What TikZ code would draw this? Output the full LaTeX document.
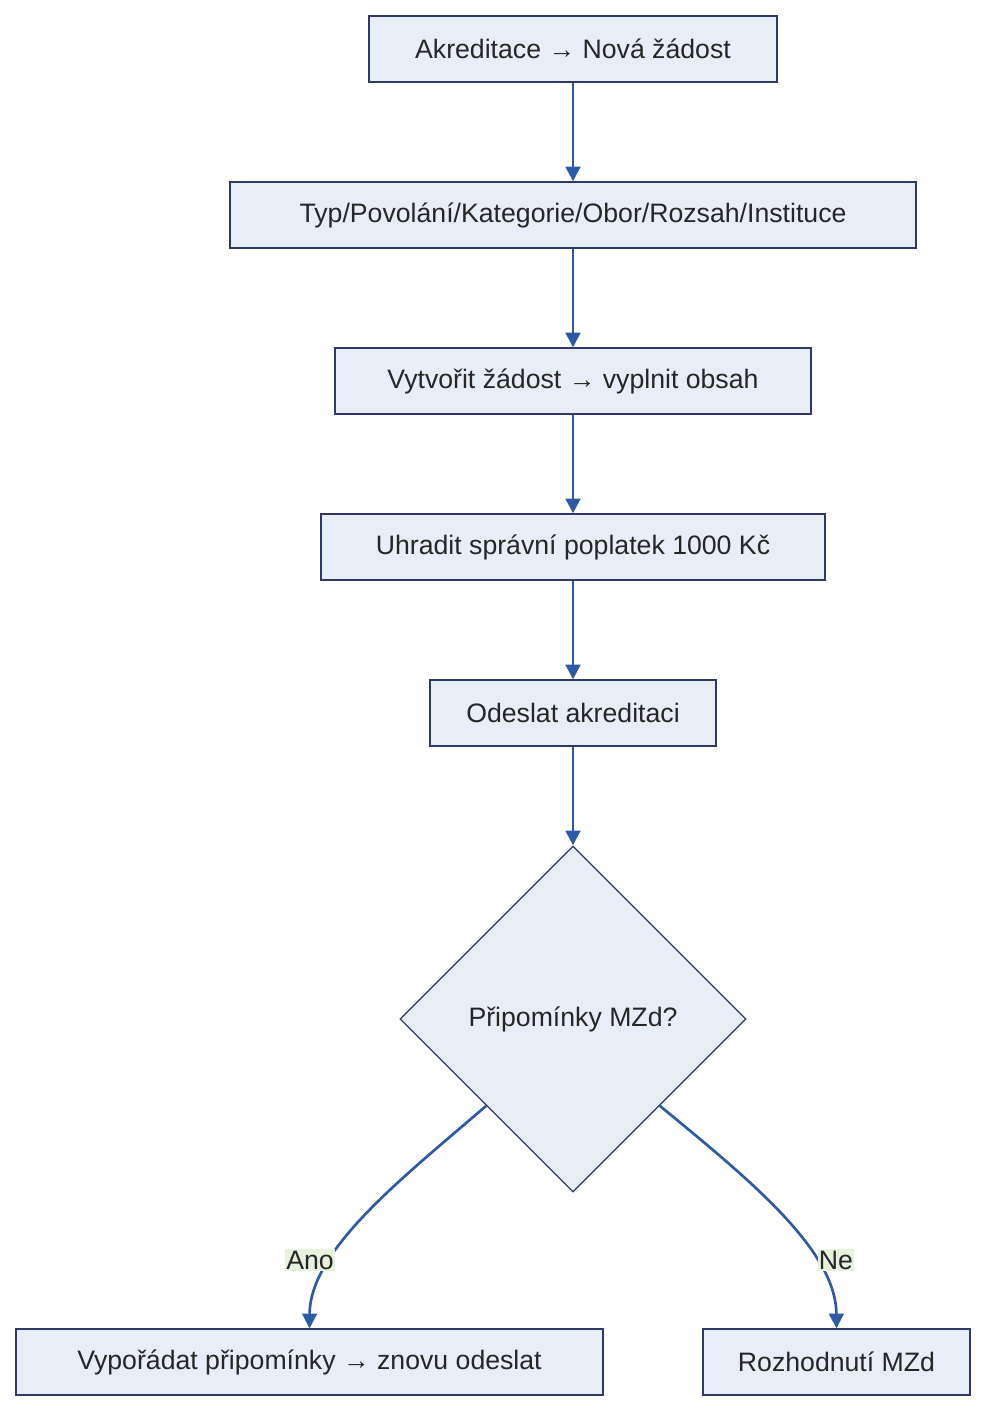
\documentclass[tikz,border=0pt]{standalone}
\usepackage{fontspec}
\setmainfont{Liberation Sans}
\usetikzlibrary{shapes.geometric,arrows.meta}
\definecolor{nfill}{HTML}{E8EEF8}
\definecolor{nline}{HTML}{2E3A66}
\definecolor{aline}{HTML}{2D5BA3}
\definecolor{lfill}{HTML}{E6F2DC}
\begin{document}
\begin{tikzpicture}[x=0.75pt,y=-0.75pt,
 box/.style={draw=nline,fill=nfill,line width=1pt,minimum height=49.5pt,inner sep=0pt,font=\fontsize{20}{24}\selectfont,text=black!85},
 dia/.style={diamond,draw=nline,fill=nfill,line width=1pt,minimum width=259.5pt,minimum height=259.5pt,inner sep=0pt,font=\fontsize{20}{24}\selectfont,text=black!85},
 arr/.style={draw=aline,line width=2pt,-{Triangle[length=11pt,width=11pt]}},
 lab/.style={fill=lfill,inner sep=1pt,font=\fontsize{20}{24}\selectfont,text=black!85}]
\useasboundingbox (0,0) rectangle (986,1412);
\node[box,minimum width=306pt] (a) at (573,49) {Akreditace → Nová žádost};
\node[box,minimum width=514.5pt] (b) at (573,215) {Typ/Povolání/Kategorie/Obor/Rozsah/Instituce};
\node[box,minimum width=357pt] (c) at (573,381) {Vytvořit žádost → vyplnit obsah};
\node[box,minimum width=378pt] (d) at (573,547) {Uhradit správní poplatek 1000 Kč};
\node[box,minimum width=214.5pt] (e) at (573,713) {Odeslat akreditaci};
\node[dia] (f) at (573,1019) {Připomínky MZd?};
\node[box,minimum width=440.25pt] (g) at (309.5,1362) {Vypořádat připomínky → znovu odeslat};
\node[box,minimum width=200.25pt] (h) at (836.5,1362) {Rozhodnutí MZd};
\draw[arr] (a) -- (b);
\draw[arr] (b) -- (c);
\draw[arr] (c) -- (d);
\draw[arr] (d) -- (e);
\draw[arr] (e) -- (f);
\draw[arr] (f.south west) .. controls (400,1180) and (310,1250) .. (g.north);
\draw[arr] (f.south east) .. controls (750,1180) and (836,1250) .. (h.north);
\node[lab] at (310,1260) {Ano};
\node[lab] at (836,1260) {Ne};
\end{tikzpicture}
\end{document}
